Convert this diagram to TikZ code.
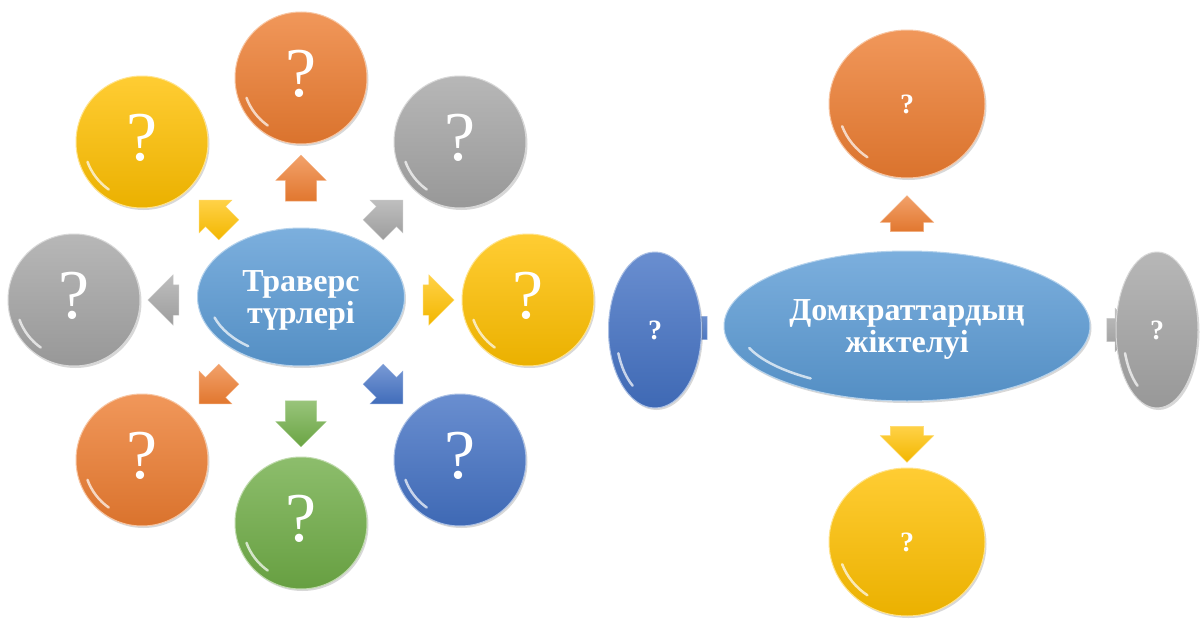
\documentclass[tikz,border=0pt]{standalone}
\usepackage{fontspec}
\setmainfont{Liberation Serif}
\usetikzlibrary{shapes.geometric,shapes.arrows,shadows,calc}
\definecolor{orng}{HTML}{ED7D31}
\definecolor{yell}{HTML}{FFC000}
\definecolor{gry}{HTML}{A5A5A5}
\definecolor{blu}{HTML}{4472C4}
\definecolor{grn}{HTML}{70AD47}
\definecolor{lblu}{HTML}{5B9BD5}
\tikzset{
  ball/.style={circle, minimum size=132pt, inner sep=0pt, top color=#1!80!white, bottom color=#1!92!black,
    draw=#1!45!white, line width=1pt, text=white, text depth=10pt, font=\fontsize{70}{70}\selectfont,
    drop shadow={shadow xshift=1.5pt, shadow yshift=-2pt, opacity=0.3}},
  egg/.style={ball=#1, ellipse, minimum size=0pt, text depth=0pt, font=\bfseries\fontsize{28}{28}\selectfont},
  hub/.style={egg=#1, align=center, font=\bfseries\fontsize{32}{32}\selectfont},
  blk/.style={single arrow, inner xsep=0pt, inner ysep=15.5pt, single arrow head extend=9.5pt,
    single arrow head indent=0pt, minimum width=0pt, minimum height=46pt,
    top color=#1!72!white, bottom color=#1!95!black, draw=#1!60!white, line width=0.4pt},
  diag/.style={minimum height=42pt, inner ysep=14pt, single arrow head extend=9pt},
  side/.style={minimum height=31pt, inner ysep=15pt, single arrow head extend=10pt},
  shine/.style={white, opacity=0.7, line width=2.5pt, line cap=round}
}
\begin{document}
\begin{tikzpicture}[x=1pt, y=-1pt]
  \useasboundingbox (0,0) rectangle (1200,621);
  \fill[white] (0,0) rectangle (1200,621);
  % arrows of the left group
  \node[blk=orng, rotate=90] (at1) at (301,186) {};
  \node[blk=gry, diag, rotate=45] (at2) at (383,220) {};
  \node[blk=yell, side] (at3) at (431,300) {};
  \node[blk=blu, diag, rotate=-45] (at4) at (383,384) {};
  \node[blk=grn, rotate=-90] (at5) at (301,416) {};
  \node[blk=orng, diag, rotate=-135] (at6) at (219,384) {};
  \node[blk=gry, side, rotate=180] (at7) at (171,300) {};
  \node[blk=yell, diag, rotate=135] (at8) at (219,220) {};
  % arrows of the right group
  \node[blk=orng, rotate=90, minimum height=36pt, inner ysep=16.5pt, single arrow head extend=10pt] (ad1) at (907,222) {};
  \node[blk=yell, rotate=-90, minimum height=36pt, inner ysep=16.5pt, single arrow head extend=10pt] (ad2) at (907,436) {};
  \node[blk=blu, rotate=180, minimum height=30pt, inner ysep=11.5pt, single arrow head extend=10pt] (ad3) at (698,328) {};
  \node[blk=gry, minimum height=30pt, inner ysep=11.5pt, single arrow head extend=10pt] (ad4) at (1116,330) {};
  % left group
  \node[hub=lblu, minimum width=207pt, minimum height=138pt] (trav) at (301,297) {Траверс\\түрлері};
  \node[ball=orng] (t1) at (301,78) {?};
  \node[ball=gry] (t2) at (460,142) {?};
  \node[ball=yell] (t3) at (528,300) {?};
  \node[ball=blu] (t4) at (460,460) {?};
  \node[ball=grn] (t5) at (301,523) {?};
  \node[ball=orng] (t6) at (142,460) {?};
  \node[ball=gry] (t7) at (74,300) {?};
  \node[ball=yell] (t8) at (142,142) {?};
  % right group
  \node[hub=lblu, minimum width=366pt, minimum height=150pt] (domk) at (907,326) {Домкраттардың\\жіктелуі};
  \node[egg=orng, minimum width=156pt, minimum height=148pt] (d1) at (907,104) {?};
  \node[egg=yell, minimum width=156pt, minimum height=148pt] (d2) at (907,542) {?};
  \node[egg=blu, minimum width=93pt, minimum height=156pt] (d3) at (655,330) {?};
  \node[egg=gry, minimum width=82pt, minimum height=156pt] (d4) at (1157,330) {?};
  % reflections
  \foreach \n/\rx/\ry in {t1/58/58, t2/58/58, t3/58/58, t4/58/58, t5/58/58, t6/58/58, t7/58/58, t8/58/58,
      trav/92/60, domk/168/64, d1/69/65, d2/69/65, d3/39/68, d4/34/68}
    \draw[shine] ($(\n.center)+(125:{\rx} and {\ry})$) arc[start angle=125, end angle=160, x radius=\rx, y radius=\ry];
\end{tikzpicture}
\end{document}
